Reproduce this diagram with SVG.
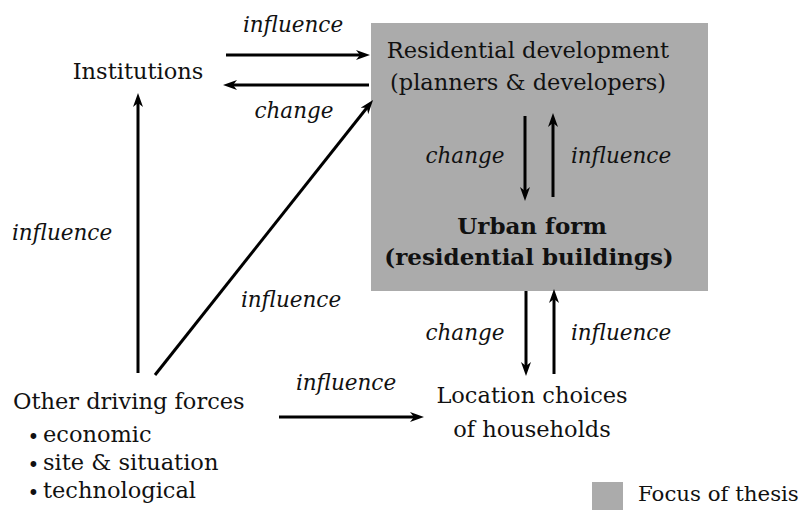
<svg xmlns="http://www.w3.org/2000/svg" width="808" height="510" viewBox="0 0 808 510" font-family="'DejaVu Serif', serif">
<style>
text{font-size:22.5px;fill:#111}
.it{font-style:italic;font-size:21.5px}
.b{font-weight:bold;font-size:23px}
.m{text-anchor:middle}
.c{stroke:#000;stroke-width:3;fill:none;marker-end:url(#ah)}
.bul{font-size:20px}
.lg{font-size:21.3px}
</style>
<defs>
<marker id="ah" viewBox="0 0 14 10" refX="8" refY="5" markerWidth="14" markerHeight="10" markerUnits="userSpaceOnUse" orient="auto">
<path d="M0,0 L14,5 L0,10 L4,5 Z" fill="#000"/>
</marker>
</defs>
<g id="focus">
<rect x="371" y="23" width="337" height="268" fill="#ababab"/>
</g>
<g id="residential">
<text class="m" x="528" y="58">Residential development</text>
<text class="m" x="528" y="90">(planners &amp; developers)</text>
</g>
<g id="urban">
<text class="m b" x="532" y="234">Urban form</text>
<text class="m b" x="529" y="265">(residential buildings)</text>
</g>
<g id="institutions">
<text class="m" x="138" y="79">Institutions</text>
</g>
<g id="other">
<text x="13" y="409">Other driving forces</text>
<text x="27.5" y="442"><tspan class="bul" dy="2">•</tspan><tspan x="43" dy="-2">economic</tspan></text>
<text x="27.5" y="470"><tspan class="bul" dy="2">•</tspan><tspan x="43" dy="-2">site &amp; situation</tspan></text>
<text x="27.5" y="498"><tspan class="bul" dy="2">•</tspan><tspan x="43" dy="-2">technological</tspan></text>
</g>
<g id="location">
<text class="m" x="532" y="403">Location choices</text>
<text class="m" x="532" y="437">of households</text>
</g>
<g id="legend">
<rect x="592" y="482" width="31" height="28" fill="#ababab"/>
<text class="lg" x="638" y="501">Focus of thesis</text>
</g>
<g id="connectors">
<line class="c" x1="226" y1="55" x2="364" y2="55"/>
<line class="c" x1="369" y1="85" x2="229" y2="85"/>
<line class="c" x1="138" y1="373" x2="138" y2="99"/>
<line class="c" x1="155" y1="375" x2="369.3" y2="104.7"/>
<line class="c" x1="525" y1="116" x2="525" y2="195"/>
<line class="c" x1="553" y1="197" x2="553" y2="119"/>
<line class="c" x1="526" y1="291" x2="526" y2="370"/>
<line class="c" x1="554" y1="374" x2="554" y2="295"/>
<line class="c" x1="279" y1="417" x2="418" y2="417"/>
<text class="it m" x="293" y="32">influence</text>
<text class="it m" x="294" y="118">change</text>
<text class="it m" x="62" y="240">influence</text>
<text class="it m" x="291" y="307">influence</text>
<text class="it m" x="465" y="163">change</text>
<text class="it m" x="621" y="163">influence</text>
<text class="it m" x="465" y="340">change</text>
<text class="it m" x="621" y="340">influence</text>
<text class="it m" x="346" y="390">influence</text>
</g>
</svg>
